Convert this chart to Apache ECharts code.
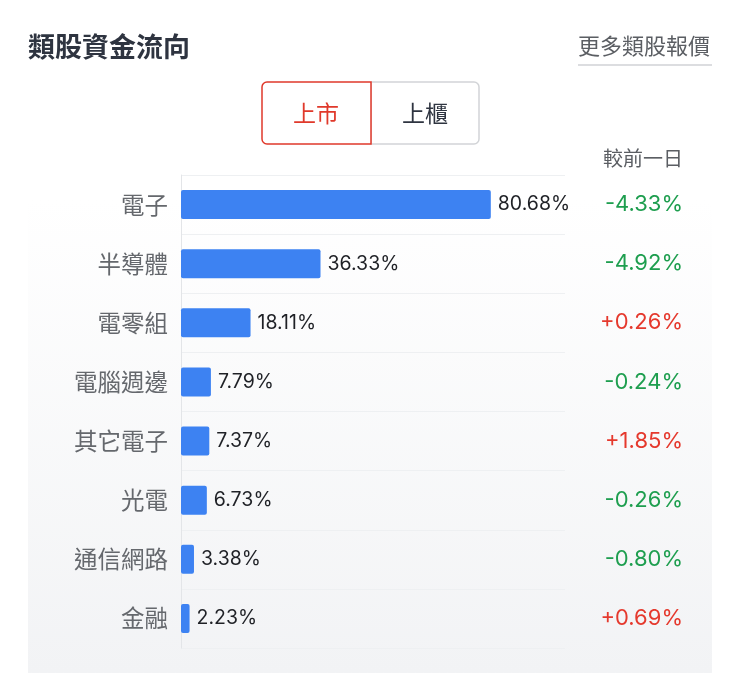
<!DOCTYPE html>
<html><head><meta charset="utf-8">
<script src="https://cdn.jsdelivr.net/npm/echarts@6/dist/echarts.min.js"></script>
<style>html,body{margin:0;padding:0;background:#fff}#c{width:740px;height:685px}</style>
</head><body><div id="c"></div>
<script>
const categories = ['電子','半導體','電零組','電腦週邊','其它電子','光電','通信網路','金融'];
const shares = [80.68,36.33,18.11,7.79,7.37,6.73,3.38,2.23];
const changes = [-4.33,-4.92,0.26,-0.24,1.85,-0.26,-0.80,0.69];
const title = '類股資金流向';
const linkText = '更多類股報價';
const tabs = ['上市','上櫃'];
const changeHeader = '較前一日';

const CJK = '"Noto Sans CJK TC","Noto Sans",sans-serif';
const NUM = 'Inter,"Noto Sans CJK TC",sans-serif';
const GREEN = '#1e9e4f', RED = '#e5392d';

const chart = echarts.init(document.getElementById('c'));
chart.setOption({
  animation:false,
  backgroundColor:'#fff',
  grid:{left:181, top:175, width:384, height:473, containLabel:false},
  xAxis:{type:'value', min:0, max:100, show:false},
  yAxis:[{
    type:'category', data:categories, inverse:true,
    axisLine:{show:true, lineStyle:{color:'#e3e5e8', width:1}},
    axisTick:{show:false},
    splitLine:{show:true, lineStyle:{color:'#eef0f2', width:1}},
    axisLabel:{color:'#65686d', fontSize:23.5, fontFamily:CJK, margin:13}
  },{
    type:'category', data:categories, inverse:true, position:'right',
    axisLine:{show:false}, axisTick:{show:false}, splitLine:{show:false},
    axisLabel:{
      margin:118, align:'right',
      formatter:(v, i)=>{ const c = changes[i]; const s = (c>0?'+':'') + c.toFixed(2) + '%'; return '{' + (c>0?'r':'g') + '|' + s + '}'; },
      rich:{
        r:{color:RED, fontSize:22, fontFamily:NUM},
        g:{color:GREEN, fontSize:22, fontFamily:NUM}
      }
    }
  }],
  series:[{
    type:'bar', data:shares, barWidth:29,
    itemStyle:{color:'#3d82f2', borderRadius:2},
    label:{show:true, position:'right', distance:7, color:'#1f2126', fontSize:19.5, fontFamily:NUM,
      formatter:p=>p.value.toFixed(2)+'%'}
  }],
  graphic:[
    {type:'rect', z:-100, shape:{x:28, y:200, width:684, height:473},
      style:{fill:new echarts.graphic.LinearGradient(0,0,0,1,[{offset:0,color:'#ffffff'},{offset:1,color:'#f2f3f5'}])}},
    {type:'text', left:28, top:33, style:{text:title, font:'bold 27px '+CJK, fill:'#2e3440'}},
    {type:'text', left:578, top:35, style:{text:linkText, font:'22px '+CJK, fill:'#5b5e63'}},
    {type:'rect', shape:{x:578, y:64, width:134, height:2}, style:{fill:'#dcdde0'}},
    {type:'rect', shape:{x:371, y:82, width:108, height:62, r:[0,5,5,0]}, style:{fill:'#fff', stroke:'#d2d4d7', lineWidth:1.5}},
    {type:'rect', shape:{x:262, y:82, width:109, height:62, r:[5,0,0,5]}, style:{fill:'#fff', stroke:'#e0392b', lineWidth:1.5}},
    {type:'text', x:316, y:113, style:{text:tabs[0], font:'23px '+CJK, fill:'#e0392b', align:'center', verticalAlign:'middle'}},
    {type:'text', x:425, y:113, style:{text:tabs[1], font:'23px '+CJK, fill:'#2e3440', align:'center', verticalAlign:'middle'}},
    {type:'text', x:683, y:158, style:{text:changeHeader, font:'20px '+CJK, fill:'#5b5e63', align:'right', verticalAlign:'middle'}}
  ]
});
</script></body></html>
